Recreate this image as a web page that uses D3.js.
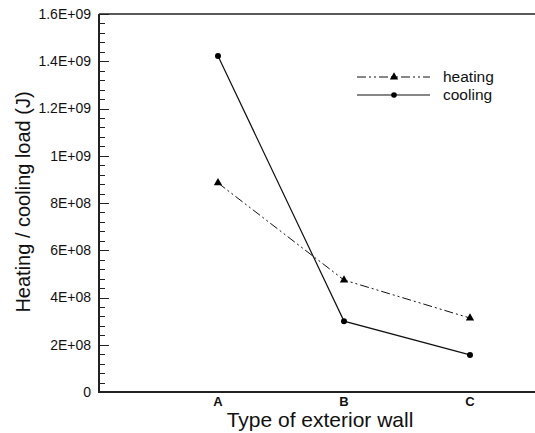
<!DOCTYPE html>
<html><head><meta charset="utf-8">
<script src="https://cdn.jsdelivr.net/npm/d3@7"></script>
<style>body{margin:0;background:#fff}svg{display:block}text{font-family:"Liberation Sans",Arial,sans-serif;fill:#111}</style>
</head><body><svg id="c" width="535" height="433"></svg>
<script>
const categories = ["A","B","C"];
const heating = [8.85e8, 4.74e8, 3.13e8];
const cooling = [1.422e9, 3.0e8, 1.57e8];
const yTicks = [0, 2e8, 4e8, 6e8, 8e8, 1e9, 1.2e9, 1.4e9, 1.6e9];
const yTickLabels = ["0","2E+08","4E+08","6E+08","8E+08","1E+09","1.2E+09","1.4E+09","1.6E+09"];
const seriesNames = ["heating","cooling"];

const svg = d3.select("#c");
const L = 99, R = 535, T = 14, B = 392;
const y = d3.scaleLinear().domain([0, 1.6e9]).range([B, T]);
const x = d3.scaleLinear().domain([0.0556, 3.516]).range([L, R]);

// minor/major ticks
const minor = d3.range(0, 1.6e9 + 1, 4e7);
const isMajor = d => Math.abs(d/2e8 - Math.round(d/2e8)) < 1e-6;
svg.append("g").selectAll("line").data(minor).join("line")
  .attr("x1", L).attr("x2", d => isMajor(d) ? L+10 : L+6)
  .attr("y1", d => Math.round(y(d))+0.5).attr("y2", d => Math.round(y(d))+0.5)
  .attr("stroke", "#222").attr("stroke-width", 1);

// y axis labels
svg.append("g").selectAll("text").data(yTicks).join("text")
  .attr("x", 91).attr("y", d => y(d)).attr("dy", "0.35em")
  .attr("text-anchor", "end").attr("font-size", 14)
  .text((d, i) => yTickLabels[i]);

// axes lines
svg.append("line").attr("x1", L).attr("x2", L).attr("y1", T).attr("y2", B+1).attr("stroke", "#222").attr("stroke-width", 2);
svg.append("line").attr("x1", L-1).attr("x2", R).attr("y1", B).attr("y2", B).attr("stroke", "#222").attr("stroke-width", 2);
svg.append("line").attr("x1", L).attr("x2", R).attr("y1", T).attr("y2", T).attr("stroke", "#222").attr("stroke-width", 1.5);

// x labels
svg.append("g").selectAll("text").data(categories).join("text")
  .attr("x", (d, i) => x(i+1)).attr("y", 406).attr("text-anchor", "middle")
  .attr("font-size", 13).attr("font-weight", "bold").text(d => d);

// titles
svg.append("text").attr("x", 320).attr("y", 427).attr("text-anchor", "middle").attr("font-size", 21).text("Type of exterior wall");
svg.append("text").attr("transform", "translate(30,202) rotate(-90)").attr("text-anchor", "middle").attr("font-size", 20).text("Heating / cooling load (J)");

const line = d3.line().x((d, i) => x(i+1)).y(d => y(d));
const dashH = "9,3,2,3,2,3";
svg.append("path").attr("d", line(heating)).attr("fill", "none").attr("stroke", "#111").attr("stroke-width", 1).attr("stroke-dasharray", dashH);
svg.append("path").attr("d", line(cooling)).attr("fill", "none").attr("stroke", "#111").attr("stroke-width", 1.2);

const tri = d3.symbol().type(d3.symbolTriangle).size(30);
svg.append("g").selectAll("path").data(heating).join("path")
  .attr("d", tri).attr("transform", (d, i) => `translate(${x(i+1)},${y(d)})`).attr("fill", "#000");
svg.append("g").selectAll("circle").data(cooling).join("circle")
  .attr("cx", (d, i) => x(i+1)).attr("cy", d => y(d)).attr("r", 3).attr("fill", "#000");

// legend
const lg = svg.append("g");
const ly = [77, 95];
lg.append("line").attr("x1", 357).attr("x2", 430).attr("y1", ly[0]).attr("y2", ly[0]).attr("stroke", "#111").attr("stroke-dasharray", dashH);
lg.append("path").attr("d", tri).attr("transform", `translate(394,${ly[0]})`).attr("fill", "#000");
lg.append("line").attr("x1", 357).attr("x2", 430).attr("y1", ly[1]).attr("y2", ly[1]).attr("stroke", "#111").attr("stroke-width", 1.2);
lg.append("circle").attr("cx", 394).attr("cy", ly[1]).attr("r", 2.8).attr("fill", "#000");
lg.selectAll("text").data(seriesNames).join("text")
  .attr("x", 443).attr("y", (d, i) => ly[i]).attr("dy", "0.35em").attr("font-size", 15.5).text(d => d);
</script></body></html>
